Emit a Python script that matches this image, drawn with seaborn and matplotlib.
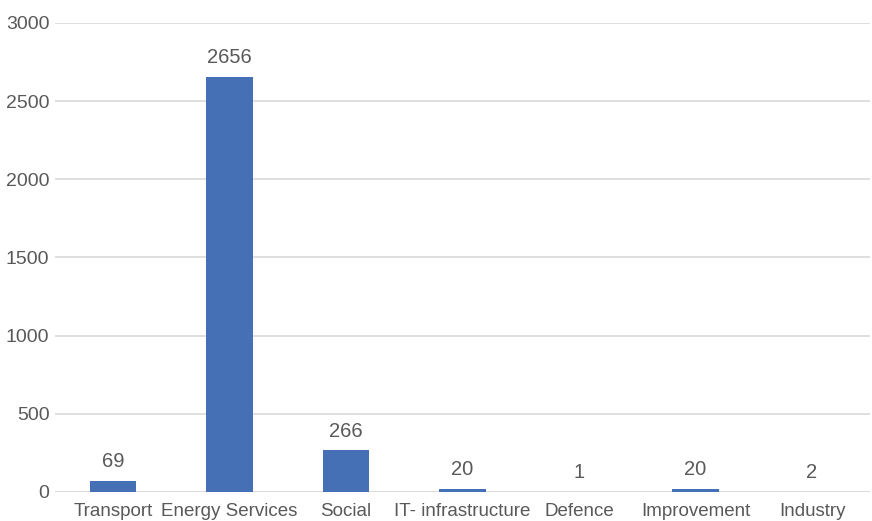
import matplotlib
matplotlib.use("Agg")
import matplotlib.pyplot as plt
import seaborn as sns
import pandas as pd
from matplotlib import font_manager

categories = ["Transport", "Energy Services", "Social", "IT- infrastructure", "Defence", "Improvement", "Industry"]
values = [69, 2656, 266, 20, 1, 20, 2]
yticks = [0, 500, 1000, 1500, 2000, 2500, 3000]

sns.set_theme(style="white")
names = {f.name for f in font_manager.fontManager.ttflist}
fam = ["Liberation Sans Narrow", "Liberation Sans", "DejaVu Sans"]
plt.rcParams['font.family'] = [f for f in fam if f in names] or ["DejaVu Sans"]

df = pd.DataFrame({"category": categories, "value": values})

fig = plt.figure(figsize=(8.72, 5.21), dpi=100)
ax = fig.add_axes([0.063, 0.0557, 0.935, 0.9003])
sns.barplot(data=df, x="category", y="value", color="#4670B5", width=0.4, ax=ax,
            zorder=3, saturation=1, linewidth=0, edgecolor="none")

ax.set_ylim(0, 3000)
ax.set_yticks(yticks)
ax.set_xlim(-0.5, len(categories) - 0.5)
ax.yaxis.grid(True, color="#D9D9D9", linewidth=1.2, zorder=0)
ax.xaxis.grid(False)
for s in ax.spines.values():
    s.set_visible(False)
ax.axhline(0, color="#D9D9D9", linewidth=1.2, zorder=2)
ax.set_xlabel("")
ax.set_ylabel("")
ax.tick_params(axis="y", length=0, labelsize=14, colors="#595959", pad=4)
ax.tick_params(axis="x", length=0, labelsize=13.5, colors="#595959", pad=8)

for c in ax.containers:
    ax.bar_label(c, labels=[str(v) for v in values], padding=7, fontsize=14.5, color="#595959")

fig.savefig("out.png", dpi=100)
